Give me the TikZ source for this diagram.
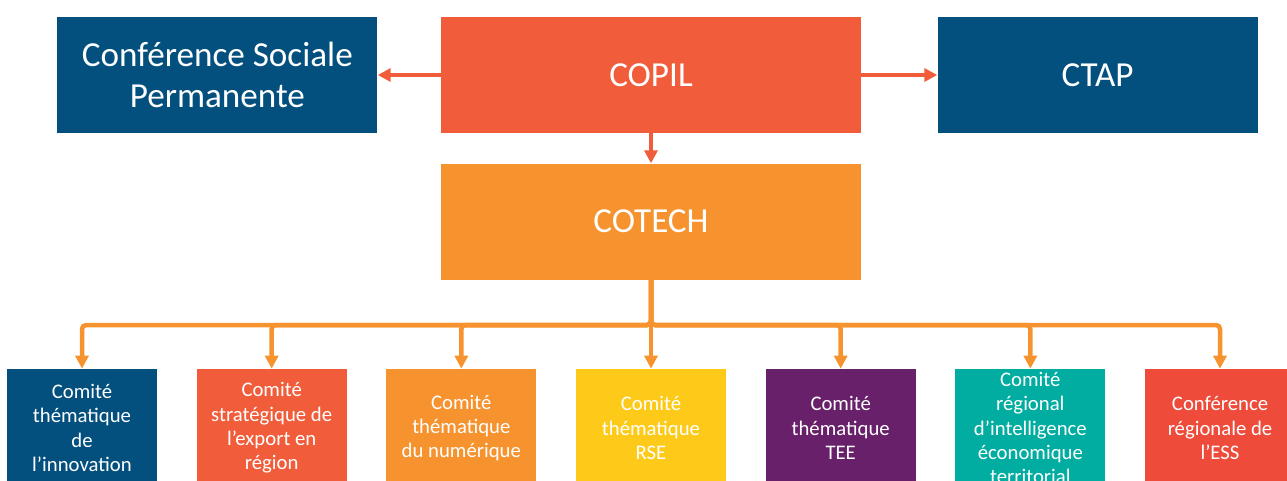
\documentclass[tikz,border=0pt]{standalone}
\usepackage{fontspec}
\setmainfont{Carlito}
\usetikzlibrary{
    arrows.meta,
    positioning
}

\definecolor{navyblue}{HTML}{03507F}
\definecolor{copilred}{HTML}{F15D3A}
\definecolor{cotechorange}{HTML}{F6932E}
\definecolor{rseyellow}{HTML}{FDCA1A}
\definecolor{teepurple}{HTML}{68206A}
\definecolor{irieteal}{HTML}{00ADA0}
\definecolor{essred}{HTML}{EE4B3B}

\begin{document}
\begin{tikzpicture}[
    x=0.02cm, y=-0.02cm,
    topbox/.style={rectangle, minimum width=6.4cm, minimum height=2.32cm, inner sep=0pt,
                   align=center, text=white, font=\fontsize{20}{23.5}\selectfont},
    subbox/.style={rectangle, minimum width=3cm, minimum height=2.36cm, inner sep=0pt,
                   align=center, text=white, font=\fontsize{11.8}{13.8}\selectfont},
    link/.style={-{Triangle[length=0.26cm,width=0.26cm]}, line width=0.08cm, draw=copilred},
    feed/.style={-{Triangle[length=0.26cm,width=0.26cm]}, line width=0.09cm,
                 draw=cotechorange, rounded corners=0.08cm}
]

    \useasboundingbox (0,0) rectangle (1287,480);
    \clip (0,0) rectangle (1287,480);

    % top row
    \node (copil) [topbox, fill=copilred, minimum width=8.4cm] at (651,75) {COPIL};
    \node (csp) [topbox, fill=navyblue, left=1.26cm of copil] {Conférence Sociale\\Permanente};
    \node (ctap) [topbox, fill=navyblue, right=1.52cm of copil] {CTAP};
    \node (cotech) [topbox, fill=cotechorange, minimum width=8.4cm, below=0.6cm of copil] {COTECH};

    % committees
    \node (rse) [subbox, fill=rseyellow] at (651,428) {Comité\\thématique\\RSE};
    \node (num) [subbox, fill=cotechorange, left=0.78cm of rse] {Comité\\thématique\\du numérique};
    \node (export) [subbox, fill=copilred, left=0.78cm of num] {Comité\\stratégique de\\l’export en\\région};
    \node (innov) [subbox, fill=navyblue, left=0.78cm of export] {Comité\\thématique\\de\\l’innovation};
    \node (tee) [subbox, fill=teepurple, right=0.78cm of rse] {Comité\\thématique\\TEE};
    \node (irie) [subbox, fill=irieteal, right=0.78cm of tee] {Comité\\régional\\d’intelligence\\économique\\territorial};
    \node (ess) [subbox, fill=essred, right=0.78cm of irie] {Conférence\\régionale de\\l’ESS};

    \coordinate (bus) at (651,325);

    \draw [link] (copil.west) -- (csp.east);
    \draw [link] (copil.east) -- (ctap.west);
    \draw [link] (copil.south) -- (cotech.north);

    \draw [feed] (cotech.south) |- (innov.north |- bus) -- (innov.north);
    \draw [feed] (cotech.south) |- (export.north |- bus) -- (export.north);
    \draw [feed] (cotech.south) |- (num.north |- bus) -- (num.north);
    \draw [feed] (cotech.south) -- (rse.north);
    \draw [feed] (cotech.south) |- (tee.north |- bus) -- (tee.north);
    \draw [feed] (cotech.south) |- (irie.north |- bus) -- (irie.north);
    \draw [feed] (cotech.south) |- (ess.north |- bus) -- (ess.north);

\end{tikzpicture}
\end{document}
